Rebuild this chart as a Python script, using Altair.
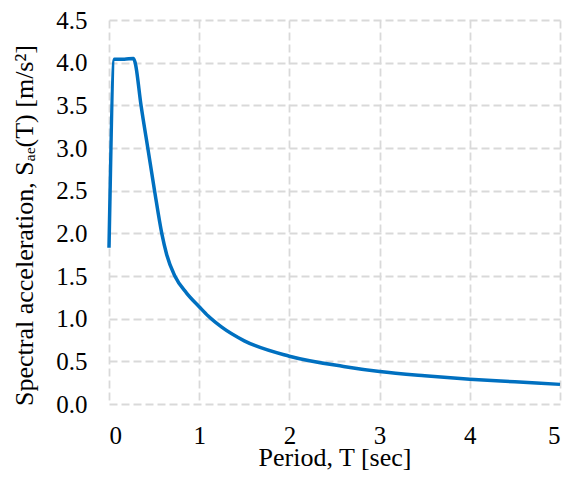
import altair as alt
import pandas as pd

period = [0.0, 0.06, 0.17, 0.27, 0.29, 0.355, 0.43, 0.505, 0.585, 0.64, 0.73, 0.86, 1.0, 1.1, 1.25, 1.5, 2.0, 2.6, 3.0, 3.5, 4.0, 4.5, 5.0]
sae = [1.83, 4.04, 4.04, 4.05, 4.0, 3.5, 3.0, 2.5, 2.0, 1.75, 1.5, 1.3, 1.14, 1.03, 0.9, 0.74, 0.56, 0.44, 0.38, 0.33, 0.29, 0.26, 0.23]

x_ticks = [0, 1, 2, 3, 4, 5]
y_ticks = [0.0, 0.5, 1.0, 1.5, 2.0, 2.5, 3.0, 3.5, 4.0, 4.5]

df = pd.DataFrame({"T": period, "S": sae})

FONT = "Times New Roman"

chart = alt.Chart(df).mark_line(
    color="#0070C0", strokeWidth=3.5, interpolate="monotone"
).encode(
    x=alt.X("T:Q",
            scale=alt.Scale(domain=[0, 5], nice=False),
            axis=alt.Axis(values=x_ticks, format="d", title="Period, T [sec]",
                          labelFont=FONT, titleFont=FONT,
                          labelBaseline="alphabetic", labelPadding=39,
                          titleBaseline="alphabetic", titleY=61)),
    y=alt.Y("S:Q",
            scale=alt.Scale(domain=[0, 4.5], nice=False),
            axis=alt.Axis(values=y_ticks, format=".1f",
                          title="Spectral acceleration, Sₐₑ(T) [m/s²]",
                          labelFont=FONT, titleFont=FONT,
                          labelPadding=22, titleY=205, titleX=-85,
                          titleBaseline="middle")),
).properties(
    width=451, height=384,
    autosize=alt.AutoSizeParams(type="none"),
    padding={"left": 101, "top": 12, "right": 7, "bottom": 67},
).configure(
    font=FONT
).configure_view(
    stroke=None
).configure_axis(
    domain=False, ticks=False, tickSize=0,
    grid=True, gridColor="#d9d9d9", gridDash=[8, 4], gridWidth=1.8,
    labelFont=FONT, labelFontSize=25, labelColor="#000000",
    titleFont=FONT, titleFontSize=26, titleFontWeight="normal", titleColor="#000000",
)

chart.save("out.html", embed_options={"renderer": "svg", "actions": False})
